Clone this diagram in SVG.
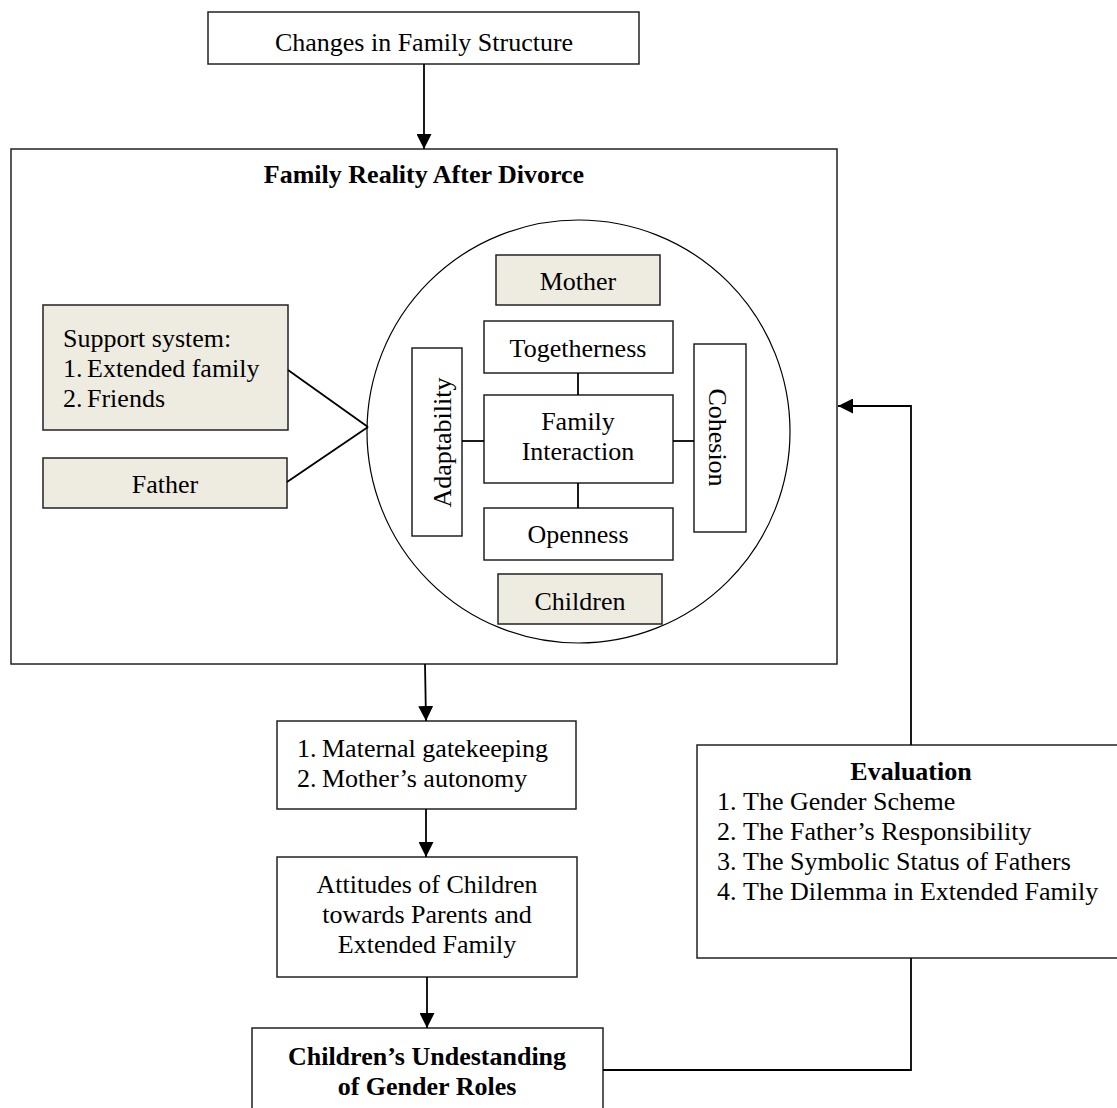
<svg xmlns="http://www.w3.org/2000/svg" width="1117" height="1108" viewBox="0 0 1117 1108">
<style>
text{font-family:"Liberation Serif","Times New Roman",serif;font-size:26px;fill:#000}
.c{text-anchor:middle}
.b{font-weight:bold}
.box{fill:#fff;stroke:#222;stroke-width:1.5}
.tan{fill:#EEECE1;stroke:#222;stroke-width:1.5}
.ln{fill:none;stroke:#000;stroke-width:1.8}
</style>
<defs>
<marker id="ah" markerWidth="15" markerHeight="15" refX="15" refY="7.5" orient="auto" markerUnits="userSpaceOnUse">
<path d="M0,0 L15,7.5 L0,15 Z" fill="#000"/>
</marker>
</defs>
<rect width="1117" height="1108" fill="#fff"/>

<g id="changes">
<rect class="box" x="208" y="12" width="431" height="52"/>
<text class="c" x="424" y="51">Changes in Family Structure</text>
</g>

<g id="family-reality">
<rect class="box" x="11" y="149" width="826" height="515"/>
<text class="c b" x="424" y="183">Family Reality After Divorce</text>
<circle cx="578.5" cy="431.5" r="211.5" fill="none" stroke="#000" stroke-width="1.2"/>
</g>

<g id="support">
<rect class="tan" x="43" y="305" width="245" height="125"/>
<text x="63" y="347">Support system:</text>
<text x="63" y="377">1.</text><text x="87" y="377">Extended family</text>
<text x="63" y="407">2.</text><text x="87" y="407">Friends</text>
</g>

<g id="father">
<rect class="tan" x="43" y="458" width="244" height="50"/>
<text class="c" x="165" y="493">Father</text>
</g>

<g id="mother">
<rect class="tan" x="496" y="255" width="164" height="50"/>
<text class="c" x="578" y="290">Mother</text>
</g>

<g id="togetherness">
<rect class="box" x="484" y="321" width="189" height="52"/>
<text class="c" x="578" y="357">Togetherness</text>
</g>

<g id="family-interaction">
<rect class="box" x="484" y="395" width="189" height="88"/>
<text class="c" x="578" y="430">Family</text>
<text class="c" x="578" y="460">Interaction</text>
</g>

<g id="openness">
<rect class="box" x="484" y="508" width="189" height="52"/>
<text class="c" x="578" y="543">Openness</text>
</g>

<g id="children">
<rect class="tan" x="498" y="574" width="164" height="50"/>
<text class="c" x="580" y="610">Children</text>
</g>

<g id="adaptability">
<rect class="box" x="412" y="348" width="50" height="188"/>
<text class="c" transform="translate(451,442.5) rotate(-90)">Adaptability</text>
</g>

<g id="cohesion">
<rect class="box" x="694" y="344" width="52" height="188"/>
<text class="c" transform="translate(709,437.5) rotate(90)">Cohesion</text>
</g>

<g id="maternal">
<rect class="box" x="277" y="721" width="299" height="88"/>
<text x="297" y="757">1.</text><text x="322" y="757">Maternal gatekeeping</text>
<text x="297" y="787">2.</text><text x="322" y="787">Mother’s autonomy</text>
</g>

<g id="attitudes">
<rect class="box" x="277" y="857" width="300" height="120"/>
<text class="c" x="427" y="893">Attitudes of Children</text>
<text class="c" x="427" y="923">towards Parents and</text>
<text class="c" x="427" y="953">Extended Family</text>
</g>

<g id="understanding">
<rect class="box" x="252" y="1028" width="351" height="100"/>
<text class="c b" x="427" y="1065">Children’s Undestanding</text>
<text class="c b" x="427" y="1095">of Gender Roles</text>
</g>

<g id="evaluation">
<rect class="box" x="697" y="745" width="440" height="213"/>
<text class="c b" x="911" y="780">Evaluation</text>
<text x="717" y="810">1.</text><text x="743" y="810">The Gender Scheme</text>
<text x="717" y="840">2.</text><text x="743" y="840">The Father’s Responsibility</text>
<text x="717" y="870">3.</text><text x="743" y="870">The Symbolic Status of Fathers</text>
<text x="717" y="900">4.</text><text x="743" y="900">The Dilemma in Extended Family</text>
</g>

<g id="connectors">
<line class="ln" x1="424" y1="64" x2="424" y2="149" marker-end="url(#ah)"/>
<line class="ln" x1="288" y1="370" x2="368" y2="427"/>
<line class="ln" x1="287" y1="482" x2="368" y2="427"/>
<line class="ln" x1="578" y1="373" x2="578" y2="395"/>
<line class="ln" x1="578" y1="483" x2="578" y2="508"/>
<line class="ln" x1="462" y1="441" x2="484" y2="441"/>
<line class="ln" x1="673" y1="441" x2="694" y2="441"/>
<line class="ln" x1="425" y1="664" x2="426" y2="721" marker-end="url(#ah)"/>
<line class="ln" x1="426" y1="809" x2="426" y2="857" marker-end="url(#ah)"/>
<line class="ln" x1="427" y1="977" x2="427" y2="1028" marker-end="url(#ah)"/>
<polyline class="ln" points="603,1070 911,1070 911,958"/>
<polyline class="ln" points="911,745 911,406 838,406" marker-end="url(#ah)"/>
</g>
</svg>
